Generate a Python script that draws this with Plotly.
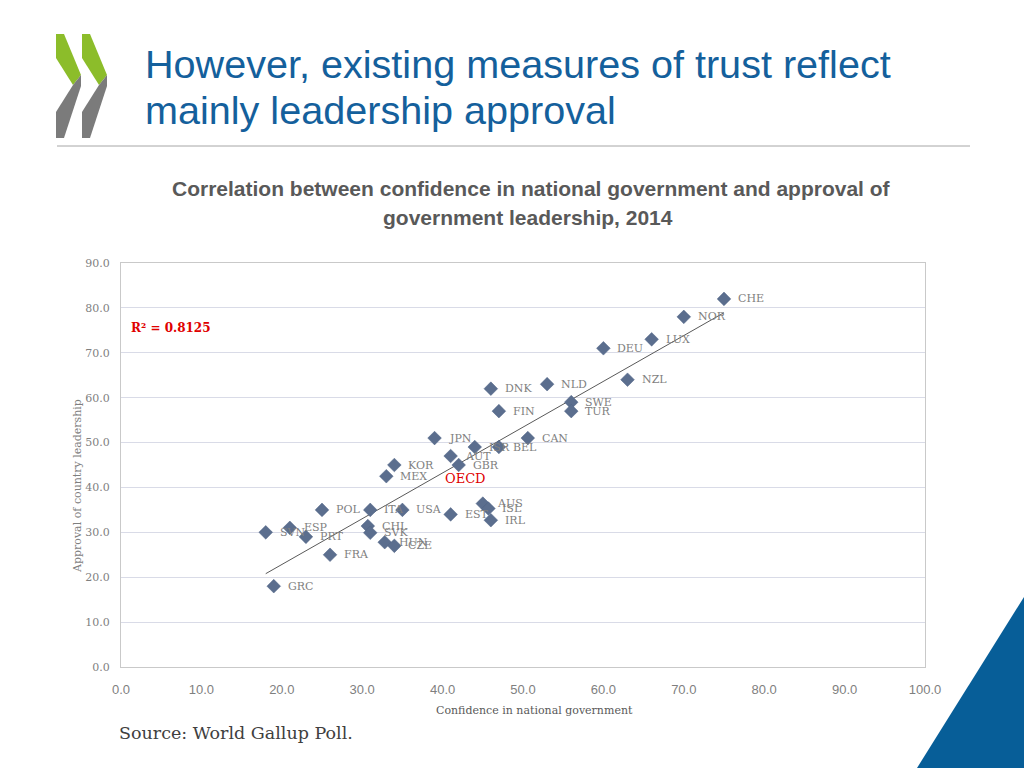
import numpy as np
import plotly.graph_objects as go

countries = ["CHE", "NOR", "LUX", "DEU", "NZL", "NLD", "DNK", "SWE", "TUR", "FIN",
             "CAN", "JPN", "ISR", "BEL", "AUT", "GBR", "KOR", "MEX", "AUS", "ISL",
             "IRL", "EST", "USA", "ITA", "POL", "CHL", "SVK", "HUN", "CZE", "SVN",
             "ESP", "PRT", "FRA", "GRC"]
confidence = [75.0, 70.0, 66.0, 60.0, 63.0, 53.0, 46.0, 56.0, 56.0, 47.0,
              50.6, 39.0, 44.0, 47.0, 41.0, 42.0, 34.0, 33.0, 45.0, 45.7,
              46.0, 41.0, 35.0, 31.0, 25.0, 30.7, 31.0, 32.8, 34.0, 18.0,
              21.0, 23.0, 26.0, 19.0]
approval = [82.0, 78.0, 73.0, 71.0, 64.0, 63.0, 62.0, 59.0, 57.0, 57.0,
            51.0, 51.0, 49.0, 49.0, 47.0, 45.0, 45.0, 42.5, 36.4, 35.3,
            32.7, 34.0, 35.0, 35.0, 35.0, 31.4, 29.9, 27.8, 27.0, 30.0,
            31.0, 29.0, 25.0, 18.0]
oecd_label_pos = (42.8, 41.9)
x_ticks = [0, 10, 20, 30, 40, 50, 60, 70, 80, 90, 100]
y_ticks = [0, 10, 20, 30, 40, 50, 60, 70, 80, 90]

W, H = 1024, 768
L, R, T, B = 121, 925, 263, 667


def px(xp):
    return (xp - L) / (R - L)


def py(yp):
    return (B - yp) / (B - T)


SERIF = "DejaVu Serif, Liberation Serif, serif"
NARROW = "Liberation Sans Narrow, Arial Narrow, Liberation Sans, sans-serif"
SANS = "Liberation Sans, Arial, sans-serif"

fig = go.Figure()

# trend line (least squares fit)
coef = np.polyfit(confidence, approval, 1)
xs = np.array([min(confidence), max(confidence)])
fig.add_trace(go.Scatter(x=xs, y=np.polyval(coef, xs), mode="lines",
                         line=dict(color="#595959", width=1), hoverinfo="skip",
                         showlegend=False))

fig.add_trace(go.Scatter(x=confidence, y=approval, mode="markers", text=countries,
                         marker=dict(symbol="diamond", size=10.5, color="#5b6e8e",
                                     line=dict(color="#4f6385", width=0.5)),
                         showlegend=False))

annotations = []
for c, xv, yv in zip(countries, confidence, approval):
    annotations.append(dict(x=xv, y=yv, xref="x", yref="y", text=c, showarrow=False,
                            xanchor="left", yanchor="middle", xshift=12,
                            font=dict(family=SERIF, size=11, color="#7f7f7f")))

annotations.append(dict(x=oecd_label_pos[0], y=oecd_label_pos[1], xref="x", yref="y",
                        text="OECD", showarrow=False, xanchor="center", yanchor="middle",
                        font=dict(family=SERIF, size=13, color="#e00000")))

annotations.append(dict(x=px(129), y=py(328), xref="paper", yref="paper",
                        text="<b>R² = 0.8125</b>", showarrow=False, xanchor="left",
                        yanchor="middle",
                        font=dict(family=SERIF, size=12, color="#e00000")))

# axis titles
annotations.append(dict(x=px(534), y=py(710), xref="paper", yref="paper",
                        text="Confidence in national government", showarrow=False,
                        xanchor="center", yanchor="middle",
                        font=dict(family=SERIF, size=11, color="#595959")))
annotations.append(dict(x=px(77), y=py(486), xref="paper", yref="paper",
                        text="Approval of country leadership", showarrow=False,
                        textangle=-90, xanchor="center", yanchor="middle",
                        font=dict(family=SERIF, size=11, color="#7f7f7f")))

# slide titles
annotations.append(dict(x=px(143), y=py(64), xref="paper", yref="paper",
                        text="However, existing measures of trust reflect",
                        showarrow=False, xanchor="left", yanchor="middle",
                        font=dict(family=SANS, size=39.6, color="#14609c")))
annotations.append(dict(x=px(143), y=py(110), xref="paper", yref="paper",
                        text="mainly leadership approval",
                        showarrow=False, xanchor="left", yanchor="middle",
                        font=dict(family=SANS, size=39.6, color="#14609c")))

annotations.append(dict(x=px(531), y=py(188), xref="paper", yref="paper",
                        text="<b>Correlation between confidence in national government and approval of</b>",
                        showarrow=False, xanchor="center", yanchor="middle",
                        font=dict(family=NARROW, size=21, color="#595959")))
annotations.append(dict(x=px(528), y=py(218), xref="paper", yref="paper",
                        text="<b>government leadership, 2014</b>",
                        showarrow=False, xanchor="center", yanchor="middle",
                        font=dict(family=NARROW, size=21, color="#595959")))

annotations.append(dict(x=px(117), y=py(733), xref="paper", yref="paper",
                        text="Source: World Gallup Poll.", showarrow=False,
                        xanchor="left", yanchor="middle",
                        font=dict(family=SERIF, size=17.5, color="#404040")))


def path(points):
    s = "M " + " L ".join(f"{px(a):.5f},{py(b):.5f}" for a, b in points) + " Z"
    return s


shapes = []
# title rule
shapes.append(dict(type="line", xref="paper", yref="paper", x0=px(57), x1=px(970),
                   y0=py(146), y1=py(146), line=dict(color="#a6a6a6", width=1)))
# logo chevrons
for dx in (0, 26):
    green = [(56 + dx, 34), (64 + dx, 34), (81 + dx, 75), (73 + dx, 85), (56 + dx, 58)]
    grey = [(73 + dx, 85), (81 + dx, 75), (81 + dx, 86), (64 + dx, 138), (56 + dx, 138),
            (56 + dx, 112)]
    shapes.append(dict(type="path", xref="paper", yref="paper", path=path(green),
                       fillcolor="#8cbd2a", line=dict(width=0)))
    shapes.append(dict(type="path", xref="paper", yref="paper", path=path(grey),
                       fillcolor="#7b7b7b", line=dict(width=0)))
# corner triangle
shapes.append(dict(type="path", xref="paper", yref="paper",
                   path=path([(1024, 597), (1024, 768), (917, 768)]),
                   fillcolor="#075e98", line=dict(width=0)))

fig.update_layout(
    width=W, height=H,
    margin=dict(l=L, r=W - R, t=T, b=H - B, pad=0),
    paper_bgcolor="white", plot_bgcolor="white",
    annotations=annotations, shapes=shapes,
    xaxis=dict(range=[0, 100], tickvals=x_ticks, tickformat=".1f",
               showgrid=False, zeroline=False, showline=True, mirror=True,
               linecolor="#c9c9c9", linewidth=1, ticks="",
               ticklabelstandoff=10,
               tickfont=dict(family=NARROW, size=13, color="#7f7f7f")),
    yaxis=dict(range=[0, 90], tickvals=y_ticks, tickformat=".1f",
               showgrid=True, gridcolor="#d9dbe7", gridwidth=1, zeroline=False,
               showline=True, mirror=True, linecolor="#c9c9c9", linewidth=1, ticks="",
               ticklabelstandoff=8,
               tickfont=dict(family=SERIF, size=11, color="#7f7f7f")),
    hovermode=False,
)

fig.write_html("out.html", config={"displayModeBar": False, "staticPlot": True},
               post_script="document.body.style.margin='0';document.body.style.overflow='hidden';")
